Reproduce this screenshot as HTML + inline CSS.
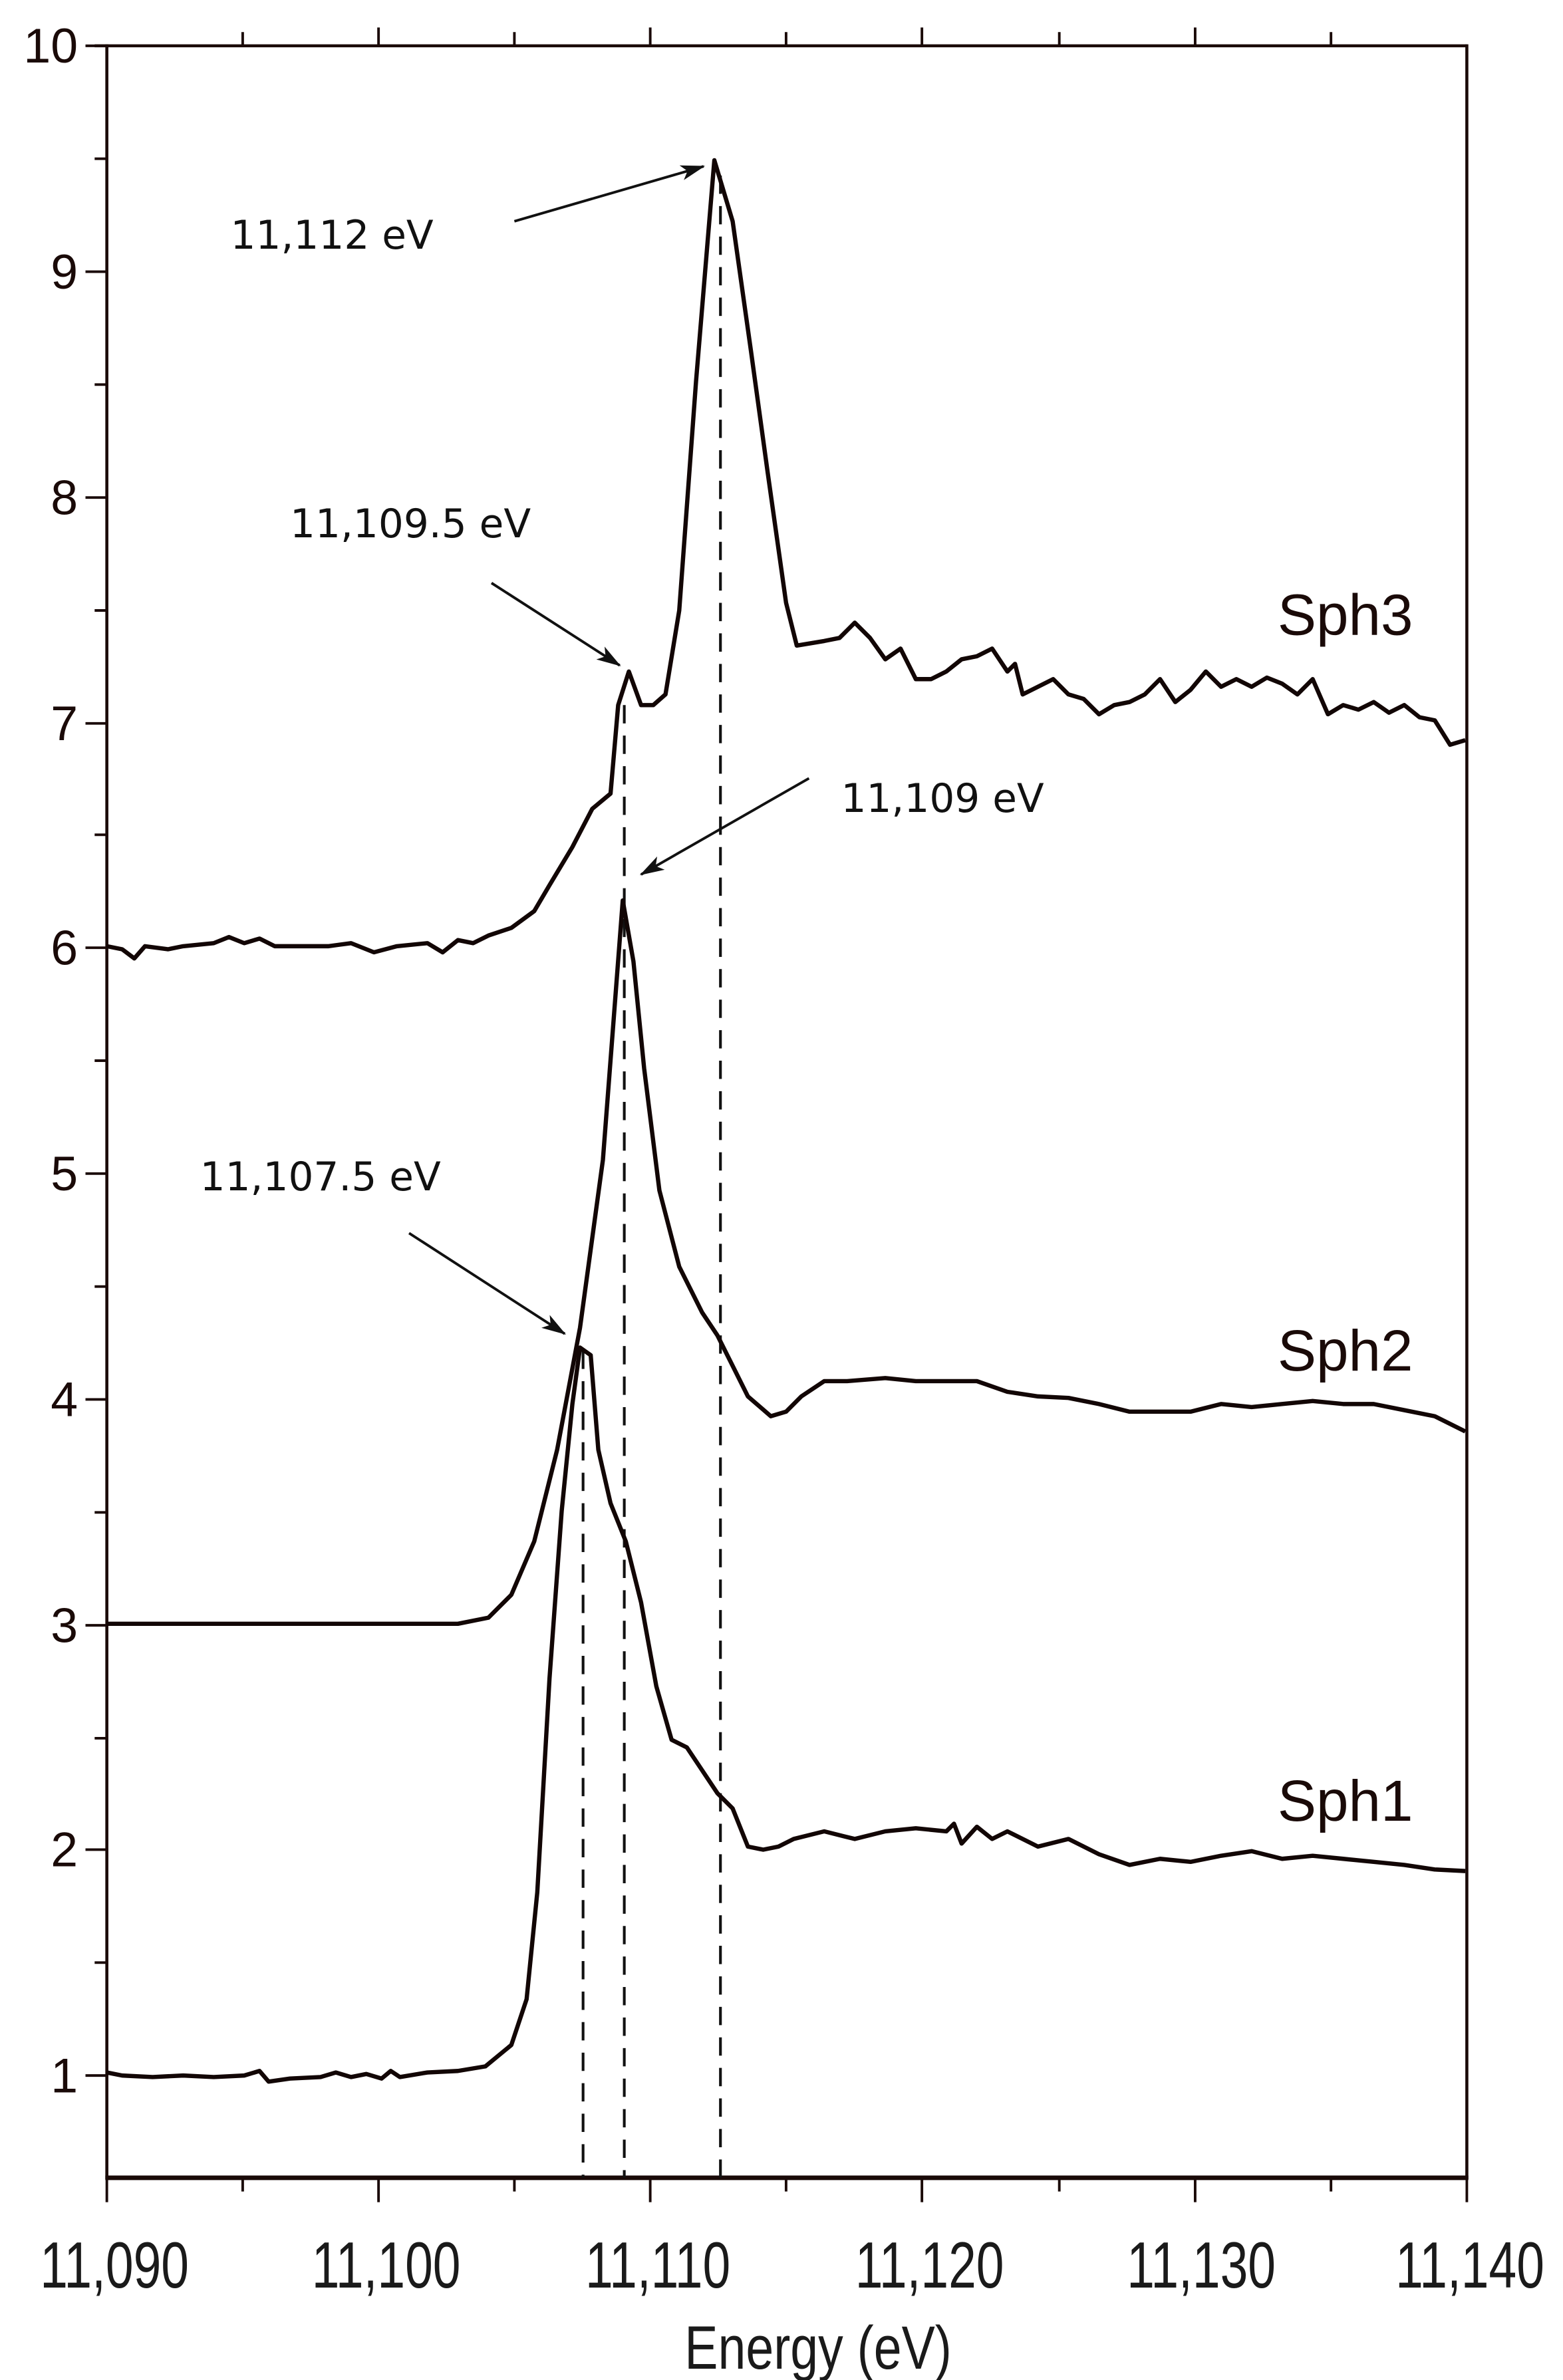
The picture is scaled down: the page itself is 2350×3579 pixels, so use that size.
<!DOCTYPE html>
<html><head><meta charset="utf-8"><style>
html,body{margin:0;padding:0;background:#fff;}
svg{display:block;}
</style></head><body>
<svg width="2350" height="3579" viewBox="0 0 1024 1559.5" xmlns="http://www.w3.org/2000/svg" font-family="Liberation Sans, Arial, sans-serif">
<defs>
<marker id="ah" markerWidth="16" markerHeight="10" refX="15" refY="5" orient="auto" markerUnits="userSpaceOnUse" viewBox="0 0 16 10">
<path d="M0,0 L16,5 L0,10 L4,5 Z" fill="#111"/>
</marker>
</defs>
<rect width="1024" height="1560" fill="#fff"/>
<g stroke="#1a0a08" fill="none">
<line x1="70" y1="29" x2="70" y2="1428" stroke-width="2"/>
<line x1="961" y1="29" x2="961" y2="1428" stroke-width="2"/>
<line x1="62" y1="30" x2="961" y2="30" stroke-width="2"/>
<line x1="69" y1="1427" x2="962" y2="1427" stroke-width="3"/>
</g>
<g stroke="#1a0a08" stroke-width="1.7">
<line x1="56" y1="30" x2="70" y2="30"/><line x1="62" y1="104" x2="70" y2="104"/>
<line x1="56" y1="178" x2="70" y2="178"/><line x1="62" y1="252" x2="70" y2="252"/>
<line x1="56" y1="326" x2="70" y2="326"/><line x1="62" y1="400" x2="70" y2="400"/>
<line x1="56" y1="474" x2="70" y2="474"/><line x1="62" y1="547" x2="70" y2="547"/>
<line x1="56" y1="621" x2="70" y2="621"/><line x1="62" y1="695" x2="70" y2="695"/>
<line x1="56" y1="769" x2="70" y2="769"/><line x1="62" y1="843" x2="70" y2="843"/>
<line x1="56" y1="917" x2="70" y2="917"/><line x1="62" y1="991" x2="70" y2="991"/>
<line x1="56" y1="1065" x2="70" y2="1065"/><line x1="62" y1="1139" x2="70" y2="1139"/>
<line x1="56" y1="1212" x2="70" y2="1212"/><line x1="62" y1="1286" x2="70" y2="1286"/>
<line x1="56" y1="1360" x2="70" y2="1360"/>
<line x1="159" y1="21" x2="159" y2="30"/><line x1="248" y1="18" x2="248" y2="30"/>
<line x1="337" y1="21" x2="337" y2="30"/><line x1="426" y1="18" x2="426" y2="30"/>
<line x1="515" y1="21" x2="515" y2="30"/><line x1="604" y1="18" x2="604" y2="30"/>
<line x1="694" y1="21" x2="694" y2="30"/><line x1="783" y1="18" x2="783" y2="30"/>
<line x1="872" y1="21" x2="872" y2="30"/>
<line x1="70" y1="1427" x2="70" y2="1443"/><line x1="159" y1="1427" x2="159" y2="1436"/>
<line x1="248" y1="1427" x2="248" y2="1443"/><line x1="337" y1="1427" x2="337" y2="1436"/>
<line x1="426" y1="1427" x2="426" y2="1443"/><line x1="515" y1="1427" x2="515" y2="1436"/>
<line x1="604" y1="1427" x2="604" y2="1443"/><line x1="694" y1="1427" x2="694" y2="1436"/>
<line x1="783" y1="1427" x2="783" y2="1443"/><line x1="872" y1="1427" x2="872" y2="1436"/>
<line x1="961" y1="1427" x2="961" y2="1443"/>
</g>
<g font-size="32" fill="#1a0a08" text-anchor="end">
<text x="51" y="41">10</text><text x="51" y="189">9</text><text x="51" y="337">8</text>
<text x="51" y="485">7</text><text x="51" y="632">6</text><text x="51" y="780">5</text>
<text x="51" y="928">4</text><text x="51" y="1076">3</text><text x="51" y="1223">2</text>
<text x="51" y="1371">1</text>
</g>
<g font-size="43" fill="#1a1a1a" text-anchor="middle">
<text transform="translate(75,1499) scale(0.76,1)">11,090</text>
<text transform="translate(253,1499) scale(0.76,1)">11,100</text>
<text transform="translate(431,1499) scale(0.76,1)">11,110</text>
<text transform="translate(609,1499) scale(0.76,1)">11,120</text>
<text transform="translate(787,1499) scale(0.76,1)">11,130</text>
<text transform="translate(963,1499) scale(0.76,1)">11,140</text>
<text transform="translate(536,1552) scale(0.82,1)" font-size="40">Energy (eV)</text>
</g>
<g stroke="#111" stroke-width="1.8" stroke-dasharray="12,8">
<line x1="382" y1="885" x2="382" y2="1427"/>
<line x1="409" y1="462" x2="409" y2="1427"/>
<line x1="472" y1="115" x2="472" y2="1427"/>
</g>
<g fill="none" stroke="#120605" stroke-width="2.8" stroke-linejoin="round">
<polyline points="70,1358 80,1360 100,1361 120,1360 140,1361 160,1360 170,1357 176,1364 190,1362 210,1361 220,1358 230,1361 240,1359 250,1362 256,1357 262,1361 280,1358 300,1357 318,1354 335,1340 345,1310 352,1240 360,1100 368,990 375,920 380,883 387,888 392,950 400,985 410,1010 420,1050 430,1105 440,1140 450,1145 460,1160 470,1175 480,1185 490,1210 500,1212 510,1210 520,1205 540,1200 560,1205 580,1200 600,1198 620,1200 625,1195 630,1208 640,1197 650,1205 660,1200 680,1210 700,1205 720,1215 740,1222 760,1218 780,1220 800,1216 820,1213 840,1218 860,1216 880,1218 900,1220 920,1222 940,1225 960,1226"/>
<polyline points="70,1064 150,1064 230,1064 300,1064 320,1060 335,1045 350,1010 365,950 380,870 395,760 408,590 415,630 422,700 432,780 445,830 460,860 470,875 480,895 490,915 505,928 515,925 525,915 540,905 555,905 580,903 600,905 620,905 640,905 660,912 680,915 700,916 720,920 740,925 760,925 780,925 800,920 820,922 840,920 860,918 880,920 900,920 920,924 940,928 960,938"/>
<polyline points="70,620 80,622 88,628 95,620 110,622 120,620 140,618 150,614 160,618 170,615 180,620 200,620 215,620 230,618 245,624 260,620 280,618 290,624 300,616 310,618 320,613 335,608 350,597 360,580 375,555 388,530 400,520 405,462 412,440 420,462 428,462 436,455 445,400 456,250 468,105 480,145 492,230 503,310 515,395 522,423 540,420 550,418 560,408 570,418 580,432 590,425 600,445 610,445 620,440 630,432 640,430 650,425 660,440 665,435 670,455 680,450 690,445 700,455 710,458 720,468 730,462 740,460 750,455 760,445 770,460 780,452 790,440 800,450 810,445 820,450 830,444 840,448 850,455 860,445 870,468 880,462 890,465 900,460 910,467 920,462 930,470 940,472 950,488 960,485"/>
</g>
<g stroke="#111" stroke-width="1.7" marker-end="url(#ah)">
<line x1="337" y1="145" x2="461" y2="109"/>
<line x1="322" y1="382" x2="406" y2="436"/>
<line x1="530" y1="510" x2="420" y2="573"/>
<line x1="268" y1="808" x2="370" y2="874"/>
</g>
<g font-size="26" fill="#111" font-family="DejaVu Sans, Liberation Sans, sans-serif">
<text x="151" y="163">11,112 eV</text>
<text x="190" y="352">11,109.5 eV</text>
<text x="551" y="532">11,109 eV</text>
<text x="131" y="780">11,107.5 eV</text>
</g>
<g font-size="38" fill="#1a0a08">
<text x="837" y="416">Sph3</text>
<text x="837" y="898">Sph2</text>
<text x="837" y="1193">Sph1</text>
</g>
</svg>
</body></html>
